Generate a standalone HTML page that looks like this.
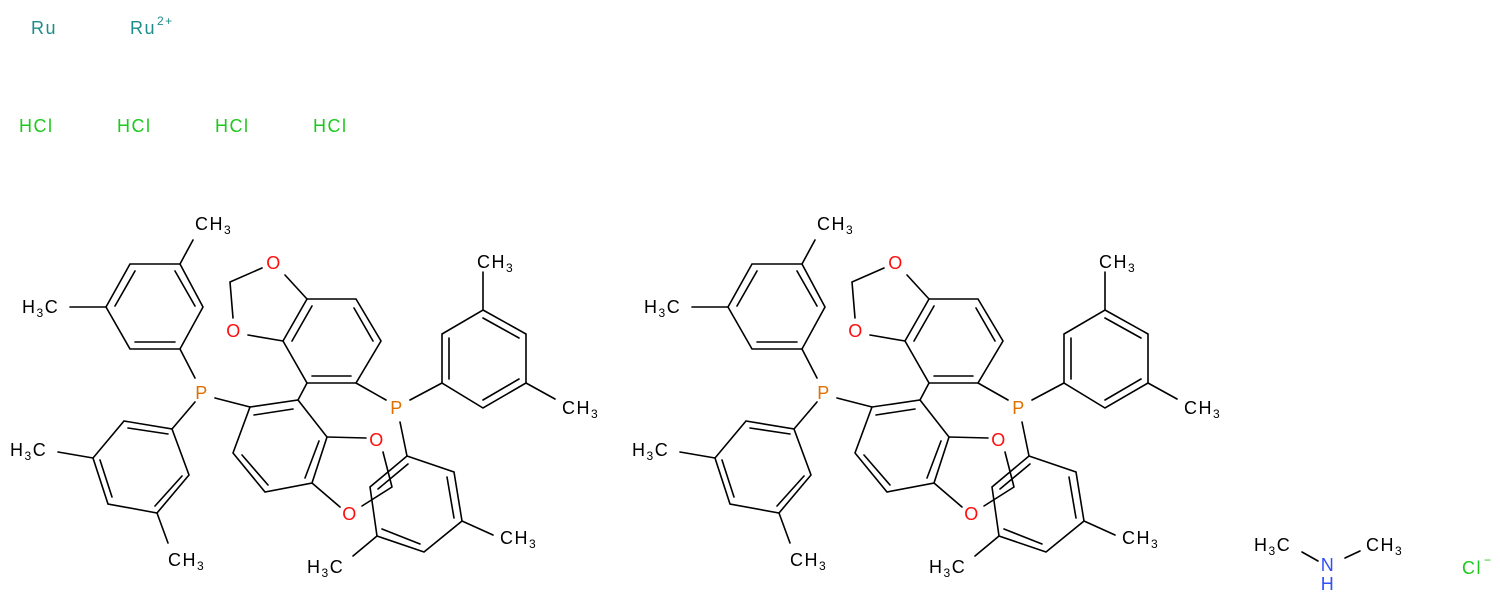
<!DOCTYPE html>
<html><head><meta charset="utf-8"><style>
html,body{margin:0;padding:0;background:#fff;width:1500px;height:604px;overflow:hidden}
text{font-family:"Liberation Sans",sans-serif;font-size:18px;letter-spacing:1.5px}
.o{fill:#ff0d0d;text-anchor:middle}.p{fill:#e07000;text-anchor:middle}
.s{font-size:12px}
</style></head><body>
<svg width="1500" height="604" xmlns="http://www.w3.org/2000/svg">
<g id="m" stroke="#000" stroke-width="1.6" fill="none" stroke-linecap="round">
<polygon points="180,264 203,307 180,349 130,349 106,307 130,264"/>
<path d="M135,271L115,306M175,271L195,306M135,342L175,342M180,264L193,240M106,307L70,307M180,349L195,378"/>
<polygon points="124,421 172,429 189,475 157,513 108,504 93,458"/>
<path d="M128,428L168,434M182,476L155,506M100,460L112,497M195,402L172,429M93,458L58,452M157,513L168,543M215,398L250,407"/>
<polygon points="250,407 298,400 327,437 312,483 265,492 233,453"/>
<path d="M254,415L293,409M319,441L305,478M242,455L268,485"/>
<polygon points="307,299 356,299 381,341 356,383 307,383 283,341"/>
<path d="M312,306L292,341M354,308L373,341M312,376L351,376M307,383L298,400"/>
<path d="M307,299L285,275M262,268L230,282L233,318M248,335L283,341M356,383L386,400"/>
<polygon points="483,310 526,334 526,383 483,408 442,383 442,334"/>
<path d="M449,338L449,379M483,318L519,338M519,379L483,400M410,400L442,383M483,310L483,272M526,383L555,399"/>
<path d="M327,437L366,438M312,483L340,507M383,452L392,487M362,506L392,487"/>
<polygon points="407,456 454,472 462,521 424,552 377,536 370,487"/>
<path d="M378,489L408,464M447,477L454,518M382,529L420,544M400,422L407,456M462,521L493,535M377,536L353,556"/>
</g>
<use href="#m" x="622"/>
<g stroke="#000" stroke-width="1.6" fill="none" stroke-linecap="round"><path d="M1302,552L1318,561M1345,558L1360,551"/></g>

<text x="31" y="34" fill="#1e8c8c">Ru</text>
<text x="130" y="34" fill="#1e8c8c">Ru</text>
<text x="157" y="25" fill="#1e8c8c" class="s">2+</text>
<g fill="#1ec81e"><text x="19" y="132">HCl</text><text x="117" y="132">HCl</text><text x="215" y="132">HCl</text><text x="313" y="132">HCl</text></g>

<g>
<text x="195" y="230">CH<tspan class="s" dy="4">3</tspan></text>
<text x="22" y="313">H<tspan class="s" dy="4">3</tspan><tspan dy="-4">C</tspan></text>
<text x="10" y="456">H<tspan class="s" dy="4">3</tspan><tspan dy="-4">C</tspan></text>
<text x="168" y="566">CH<tspan class="s" dy="4">3</tspan></text>
<text x="477" y="268">CH<tspan class="s" dy="4">3</tspan></text>
<text x="562" y="414">CH<tspan class="s" dy="4">3</tspan></text>
<text x="500" y="544">CH<tspan class="s" dy="4">3</tspan></text>
<text x="307" y="573">H<tspan class="s" dy="4">3</tspan><tspan dy="-4">C</tspan></text>
<text class="p" x="202" y="399">P</text><text class="p" x="397" y="414">P</text>
<text class="o" x="274" y="269">O</text><text class="o" x="234" y="337">O</text>
<text class="o" x="377" y="446">O</text><text class="o" x="350" y="520">O</text>
</g>
<g>
<text x="817" y="230">CH<tspan class="s" dy="4">3</tspan></text>
<text x="644" y="313">H<tspan class="s" dy="4">3</tspan><tspan dy="-4">C</tspan></text>
<text x="632" y="456">H<tspan class="s" dy="4">3</tspan><tspan dy="-4">C</tspan></text>
<text x="790" y="566">CH<tspan class="s" dy="4">3</tspan></text>
<text x="1099" y="268">CH<tspan class="s" dy="4">3</tspan></text>
<text x="1184" y="414">CH<tspan class="s" dy="4">3</tspan></text>
<text x="1122" y="544">CH<tspan class="s" dy="4">3</tspan></text>
<text x="929" y="573">H<tspan class="s" dy="4">3</tspan><tspan dy="-4">C</tspan></text>
<text class="p" x="824" y="399">P</text><text class="p" x="1019" y="414">P</text>
<text class="o" x="896" y="269">O</text><text class="o" x="856" y="337">O</text>
<text class="o" x="999" y="446">O</text><text class="o" x="972" y="520">O</text>
</g>
<text x="1254" y="551">H<tspan class="s" dy="4">3</tspan><tspan dy="-4">C</tspan></text>
<text x="1366" y="551">CH<tspan class="s" dy="4">3</tspan></text>
<text x="1328" y="571" fill="#3050f8" text-anchor="middle">N</text>
<text x="1328" y="590" fill="#3050f8" text-anchor="middle">H</text>
<text x="1462" y="574" fill="#1ec81e">Cl</text>
<text x="1484" y="564" fill="#1ec81e" class="s">−</text>
</svg>
</body></html>
